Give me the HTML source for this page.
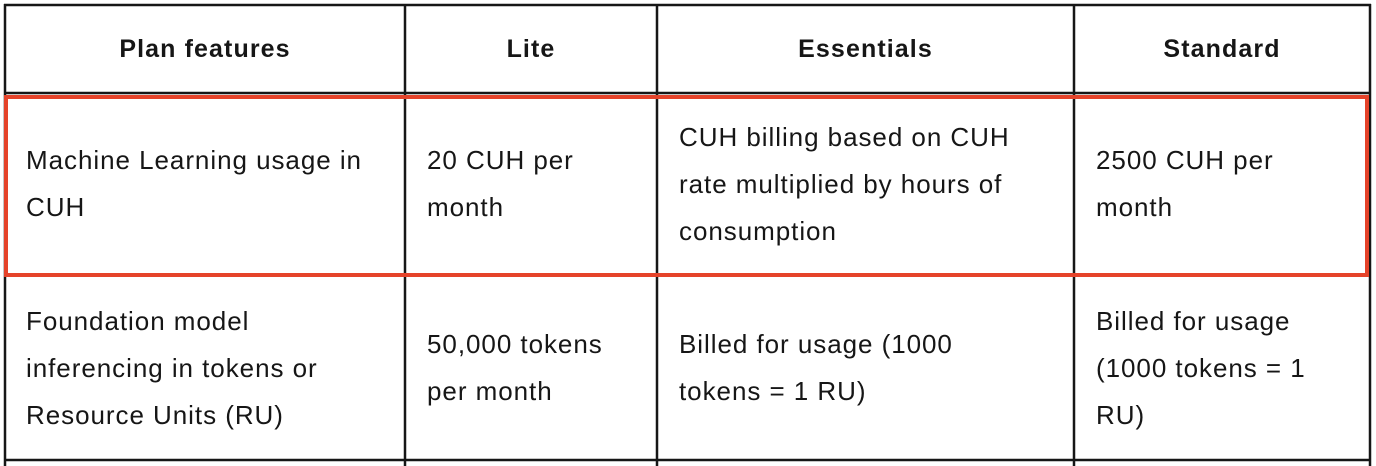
<!DOCTYPE html>
<html><head><style>
body{margin:0;width:1376px;height:466px;background:#fff;position:relative;overflow:hidden;font-family:"Liberation Sans",sans-serif;color:#161616}
.t{position:absolute;font-size:26px;letter-spacing:0.95px;line-height:47px;white-space:nowrap}
.h{position:absolute;font-size:25px;letter-spacing:1.1px;font-weight:bold;text-align:center;top:31px;line-height:36px}
</style></head><body>
<svg width="1376" height="466" style="position:absolute;left:0;top:0">
<g stroke="#161616" stroke-width="2.5" fill="none">
<line x1="4" y1="5" x2="1371" y2="5"/>
<line x1="4" y1="93" x2="1371" y2="93"/>
<line x1="4" y1="460" x2="1371" y2="460"/>
<line x1="5" y1="4" x2="5" y2="466"/>
<line x1="405" y1="4" x2="405" y2="466"/>
<line x1="657" y1="4" x2="657" y2="466"/>
<line x1="1074" y1="4" x2="1074" y2="466"/>
<line x1="1370" y1="4" x2="1370" y2="466"/>
</g>
<rect x="6" y="97" width="1361" height="178" fill="none" stroke="#e5432a" stroke-width="4"/>
</svg>
<div class="h" style="left:5px;width:400px">Plan features</div>
<div class="h" style="left:405px;width:252px">Lite</div>
<div class="h" style="left:657px;width:417px">Essentials</div>
<div class="h" style="left:1074px;width:296px">Standard</div>

<div class="t" style="left:26px;top:137px">Machine Learning usage in<br>CUH</div>
<div class="t" style="left:427px;top:137px">20 CUH per<br>month</div>
<div class="t" style="left:679px;top:114px">CUH billing based on CUH<br>rate multiplied by hours of<br>consumption</div>
<div class="t" style="left:1096px;top:137px">2500 CUH per<br>month</div>

<div class="t" style="left:26px;top:298px">Foundation model<br>inferencing in tokens or<br>Resource Units (RU)</div>
<div class="t" style="left:427px;top:321px">50,000 tokens<br>per month</div>
<div class="t" style="left:679px;top:321px">Billed for usage (1000<br>tokens = 1 RU)</div>
<div class="t" style="left:1096px;top:298px">Billed for usage<br>(1000 tokens = 1<br>RU)</div>
</body></html>
